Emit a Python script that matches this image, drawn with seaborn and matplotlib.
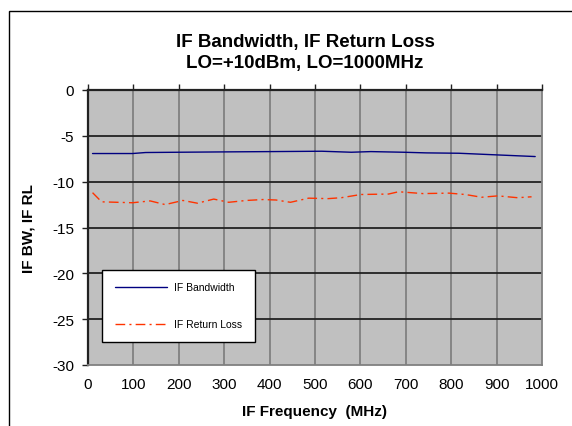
import matplotlib.pyplot as plt
import seaborn as sns
import pandas as pd
from matplotlib.patches import Rectangle

# IF bandwidth trace
bw_freq = [10, 98, 127, 199, 307, 400, 515, 580, 623, 695, 745, 817, 882, 985]
bw_val = [-6.93, -6.93, -6.82, -6.79, -6.75, -6.72, -6.68, -6.79, -6.72, -6.79,
          -6.86, -6.90, -7.04, -7.26]

# IF return loss trace
rl_freq = [10, 30, 98, 137, 170, 209, 241, 277, 310, 349, 385, 414, 446, 486,
           529, 558, 601, 662, 684, 738, 795, 831, 867, 903, 946, 977]
rl_val = [-11.2, -12.2, -12.3, -12.1, -12.5, -12.05, -12.35, -11.9, -12.25, -12.05,
          -11.95, -12.0, -12.25, -11.8, -11.85, -11.75, -11.4, -11.35, -11.1, -11.3,
          -11.25, -11.4, -11.7, -11.55, -11.75, -11.65]

xticks = list(range(0, 1001, 100))
yticks = list(range(-30, 1, 5))

sns.set_style("white")
plt.rcParams['font.family'] = ['Liberation Sans', 'DejaVu Sans']
plt.rcParams['font.size'] = 11
plt.rcParams['axes.unicode_minus'] = False
plt.rcParams['text.color'] = 'black'
plt.rcParams['axes.labelcolor'] = 'black'
plt.rcParams['xtick.color'] = 'black'
plt.rcParams['ytick.color'] = 'black'

fig = plt.figure(figsize=(5.72, 4.27), dpi=100)
ax = fig.add_axes([88/572, 1-366/427, 454/572, 275/427])
ax.set_facecolor('#c0c0c0')

bw = pd.DataFrame({'freq': bw_freq, 'val': bw_val})
rl = pd.DataFrame({'freq': rl_freq, 'val': rl_val})
sns.lineplot(data=bw, x='freq', y='val', ax=ax, color='#000080', lw=1.0,
             label='IF Bandwidth')
sns.lineplot(data=rl, x='freq', y='val', ax=ax, color='#ff3300', lw=1.0,
             dashes=False, label='IF Return Loss')
ax.lines[1].set_dashes((7, 3, 1.5, 3))

ax.set_xlim(0, 1000)
ax.set_ylim(-30, 0)
ax.set_xticks(xticks)
ax.set_yticks(yticks)

for v in xticks[1:-1]:
    ax.axvline(v, color='#808080', lw=1.3, zorder=0.5)
for v in yticks[1:-1]:
    ax.axhline(v, color='#222222', lw=1.3, zorder=0.5)

for s in ['left', 'top']:
    ax.spines[s].set_color('#222222')
    ax.spines[s].set_linewidth(1.6)
ax.spines['right'].set_color('#808080')
ax.spines['bottom'].set_color('#808080')
ax.spines['right'].set_linewidth(1.3)
ax.spines['bottom'].set_linewidth(1.3)

ax.tick_params(axis='x', top=True, bottom=False, labelbottom=True, labeltop=False,
               direction='out', length=4, width=1, color='#222222', pad=5)
ax.tick_params(axis='y', left=True, direction='out', length=4, width=1,
               color='#222222', pad=6)

ax.set_xlabel('IF Frequency  (MHz)', fontweight='bold', fontsize=11, labelpad=9)
ax.set_ylabel('IF BW, IF RL', fontweight='bold', fontsize=11, labelpad=12)

fig.text(305/572, 1-53/427, 'IF Bandwidth, IF Return Loss\nLO=+10dBm, LO=1000MHz',
         ha='center', va='center', fontweight='bold', fontsize=13.5, linespacing=1.3)

leg = ax.legend(loc='lower left', bbox_to_anchor=(0.031, 0.084), fontsize=7.5,
                labelspacing=2.6, handlelength=5, handletextpad=0.7,
                borderpad=1.2, borderaxespad=0, fancybox=False,
                framealpha=1, edgecolor='black')
leg.get_frame().set_linewidth(1.0)

fig.patches.append(Rectangle((9/572, -0.1), 1.1, (427-12)/427 + 0.1,
                             transform=fig.transFigure, fill=False,
                             edgecolor='black', lw=1.0))

fig.savefig('out.png', dpi=100)
